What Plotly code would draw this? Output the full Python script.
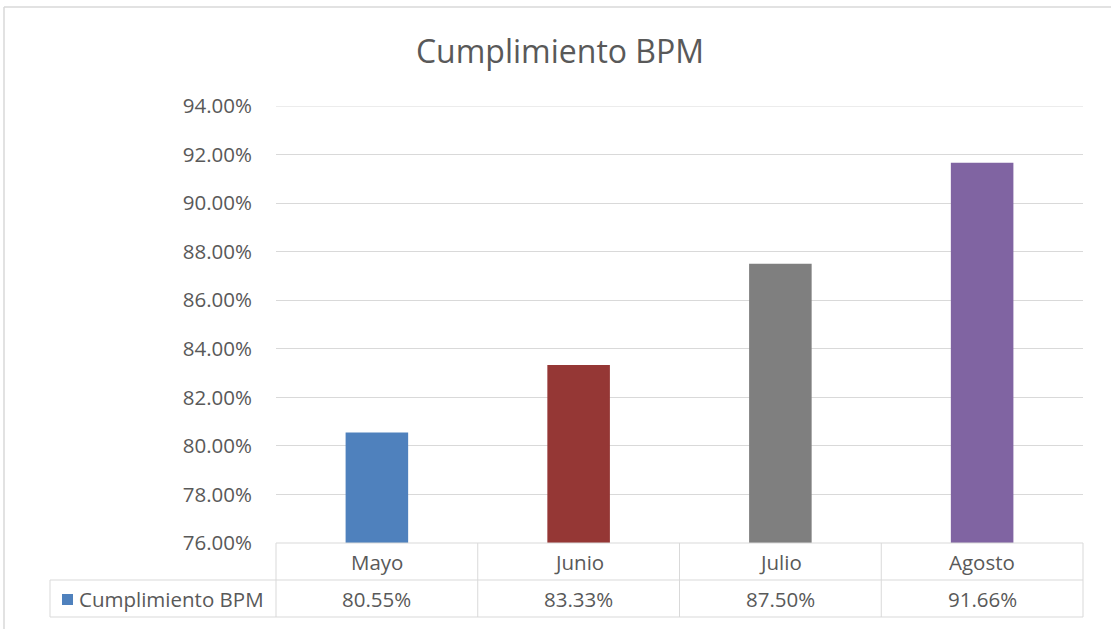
import plotly.graph_objects as go

# Monthly BPM compliance
months = ["Mayo", "Junio", "Julio", "Agosto"]
compliance = [80.55, 83.33, 87.50, 91.66]
bar_colors = ["#4F81BD", "#953735", "#7F7F7F", "#8064A2"]
series_name = "Cumplimiento BPM"
y_ticks = [76, 78, 80, 82, 84, 86, 88, 90, 92, 94]

W, H = 1111, 629
FONT = "Open Sans"
TEXT = "#595959"
GRID = "#D9D9D9"
LABEL_SIZE = 20.5


def px(x):
    return x / W


def py(y):
    return 1 - y / H


# Plot-area edges (pixels)
left, right, top, bottom = 276, 1083, 106, 543
row1, row2 = 580, 617
key_left = 50

fig = go.Figure()
fig.add_trace(go.Bar(
    x=months,
    y=compliance,
    marker=dict(color=bar_colors, line=dict(width=0)),
    name=series_name,
    showlegend=False,
    hoverinfo="x+y",
))

shapes = []
# Chart frame (top and left edge)
shapes.append(dict(type="line", xref="paper", yref="paper",
                   x0=px(4), x1=1, y0=py(7), y1=py(7),
                   line=dict(color=GRID, width=1.5)))
shapes.append(dict(type="line", xref="paper", yref="paper",
                   x0=px(4), x1=px(4), y0=py(7), y1=0,
                   line=dict(color=GRID, width=1.5)))

# Top gridline at the upper end of the axis range
shapes.append(dict(type="line", xref="x domain", yref="y",
                   x0=0, x1=1, y0=y_ticks[-1], y1=y_ticks[-1],
                   line=dict(color=GRID, width=1), layer="below"))

# Data table grid
band = (right - left) / len(months)
for i in range(len(months) + 1):
    xv = left + i * band
    shapes.append(dict(type="line", xref="paper", yref="paper",
                       x0=px(xv), x1=px(xv), y0=py(bottom), y1=py(row2),
                       line=dict(color=GRID, width=1)))
for yv in (row1, row2):
    shapes.append(dict(type="line", xref="paper", yref="paper",
                       x0=px(key_left), x1=px(right), y0=py(yv), y1=py(yv),
                       line=dict(color=GRID, width=1)))
shapes.append(dict(type="line", xref="paper", yref="paper",
                   x0=px(key_left), x1=px(key_left), y0=py(row1), y1=py(row2),
                   line=dict(color=GRID, width=1)))
shapes.append(dict(type="line", xref="paper", yref="paper",
                   x0=px(left), x1=px(right), y0=py(bottom), y1=py(bottom),
                   line=dict(color=GRID, width=1)))
# Legend key
shapes.append(dict(type="rect", xref="paper", yref="paper",
                   x0=px(62), x1=px(73), y0=py(605), y1=py(594),
                   fillcolor=bar_colors[0], line=dict(width=0)))

annotations = []
for m, v in zip(months, compliance):
    annotations.append(dict(x=m, xref="x", y=py((bottom + row1) / 2), yref="paper",
                            text=m, showarrow=False, yanchor="middle",
                            font=dict(family=FONT, size=LABEL_SIZE, color=TEXT)))
    annotations.append(dict(x=m, xref="x", y=py((row1 + row2) / 2), yref="paper",
                            text=f"{v:.2f}%", showarrow=False, yanchor="middle",
                            font=dict(family=FONT, size=LABEL_SIZE, color=TEXT)))
annotations.append(dict(x=px(77), xref="paper", y=py((row1 + row2) / 2), yref="paper",
                        text=series_name, showarrow=False, xanchor="left", yanchor="middle",
                        font=dict(family=FONT, size=LABEL_SIZE, color=TEXT)))

fig.update_layout(
    width=W, height=H,
    margin=dict(l=0, r=0, t=0, b=0, pad=0, autoexpand=False),
    paper_bgcolor="white",
    plot_bgcolor="white",
    title=dict(text="Cumplimiento BPM", x=560 / W, xanchor="center",
               y=py(52), yanchor="middle",
               font=dict(family=FONT, size=32, color=TEXT)),
    bargap=0.69,
    shapes=shapes,
    annotations=annotations,
    xaxis=dict(domain=[px(left), px(right)], showticklabels=False, automargin=False,
               showgrid=False, zeroline=False, showline=False, fixedrange=True),
    yaxis=dict(domain=[py(bottom), py(top)], range=[76, 94], automargin=False,
               tickvals=y_ticks, ticktext=[f"{t:.2f}%" for t in y_ticks],
               showgrid=True, gridcolor=GRID, gridwidth=1,
               zeroline=False, showline=False, ticks="",
               ticklabelstandoff=23,
               tickfont=dict(family=FONT, size=LABEL_SIZE, color=TEXT)),
)

fig.write_html("out.html")
